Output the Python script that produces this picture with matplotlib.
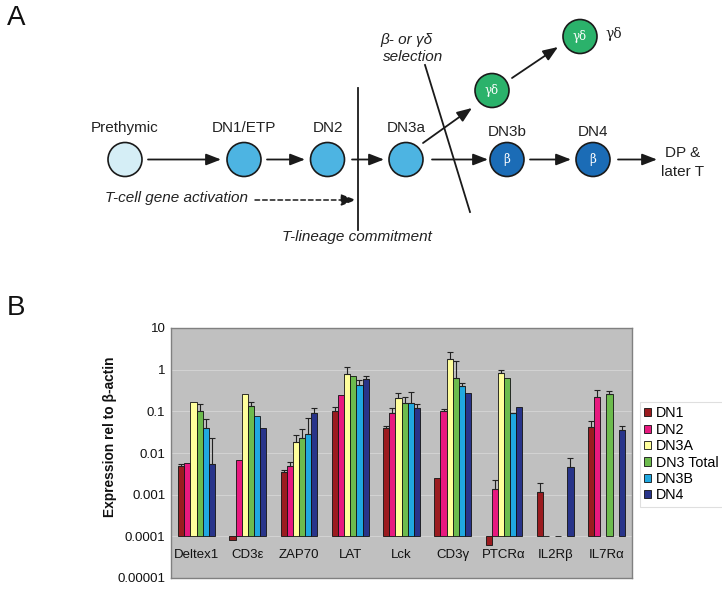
import numpy as np
import matplotlib
matplotlib.use("Agg")
import matplotlib.pyplot as plt
from matplotlib.patches import Circle, Patch
from matplotlib.ticker import FixedLocator, FixedFormatter
import matplotlib.transforms as mtransforms

plt.rcParams['font.family'] = ['Liberation Sans', 'DejaVu Sans']

nan = np.nan
genes = ['Deltex1', 'CD3ε', 'ZAP70', 'LAT', 'Lck', 'CD3γ', 'PTCRα', 'IL2Rβ', 'IL7Rα']
series = ['DN1', 'DN2', 'DN3A', 'DN3 Total', 'DN3B', 'DN4']
colors = ['#9b1b1f', '#e8197f', '#ffff9c', '#6cbb4d', '#20a8e0', '#28348a']

DN1 = [0.0049, 0.00008, 0.0035, 0.10, 0.039, 0.0025, 0.000063, 0.00115, 0.042]
DN2 = [0.0058, 0.0069, 0.005, 0.25, 0.091, 0.10, 0.00135, 0.0001, 0.22]
DN3A = [0.17, 0.254, 0.018, 0.77, 0.204, 1.82, 0.85, nan, nan]
DN3T = [0.10, 0.134, 0.023, 0.72, 0.155, 0.64, 0.625, 0.0001, 0.26]
DN3B = [0.040, 0.076, 0.029, 0.42, 0.16, 0.40, 0.089, nan, nan]
DN4 = [0.0055, 0.040, 0.089, 0.61, 0.118, 0.28, 0.124, 0.0047, 0.035]

DN1_err = [0.0055, nan, 0.0039, 0.13, 0.045, nan, nan, 0.0019, 0.059]
DN2_err = [nan, nan, 0.006, nan, 0.118, 0.111, 0.0022, nan, 0.32]
DN3A_err = [nan, nan, 0.0266, 1.19, 0.28, 2.6, 1.0, nan, nan]
DN3T_err = [0.15, 0.17, 0.038, nan, 0.215, 1.6, nan, nan, 0.31]
DN3B_err = [0.066, nan, 0.068, 0.56, 0.29, 0.48, 0.093, nan, nan]
DN4_err = [0.023, nan, 0.118, 0.70, 0.147, nan, nan, 0.0077, 0.045]

values = [DN1, DN2, DN3A, DN3T, DN3B, DN4]
err_tops = [DN1_err, DN2_err, DN3A_err, DN3T_err, DN3B_err, DN4_err]

ytick_vals = [10, 1, 0.1, 0.01, 0.001, 0.0001, 0.00001]
ytick_labels = ['10', '1', '0.1', '0.01', '0.001', '0.0001', '0.00001']
base = 0.0001

W, H = 722, 590
fig = plt.figure(figsize=(W / 100, H / 100), dpi=100)

# ---------------- Panel A (diagram) ----------------
axA = fig.add_axes([0, 0, 1, 1])
axA.set_xlim(0, W)
axA.set_ylim(H, 0)
axA.axis('off')

light = '#d5eef6'
mid = '#4db4e2'
dark = '#1b6cb6'
green = '#2bb26b'
edge = '#1a1a1a'

nodes = [
    ('Prethymic', 125, 159.5, light, None, 128),
    ('DN1/ETP', 244, 159.5, mid, None, 128),
    ('DN2', 327.5, 159.5, mid, None, 128),
    ('DN3a', 406, 159.5, mid, None, 128),
    ('DN3b', 507, 159.5, dark, 'β', 132),
    ('DN4', 593, 159.5, dark, 'β', 132),
    (None, 492, 90.5, green, 'γδ', None),
    (None, 580, 36.5, green, 'γδ', None),
]
for lab, cx, cy, fc, inner, ly in nodes:
    axA.add_patch(Circle((cx, cy), 17, fc=fc, ec=edge, lw=1.2, zorder=3))
    if lab:
        axA.text(cx, ly, lab, ha='center', va='center', fontsize=11, color='#222222')
    if inner:
        axA.text(cx, cy, inner, ha='center', va='center', fontsize=8.5,
                 color='white', family='DejaVu Serif', zorder=4)

arrows = [((148, 159.5), (221, 159.5)), ((267, 159.5), (305, 159.5)),
          ((352, 159.5), (384, 159.5)), ((423, 143), (472, 108)),
          ((432, 159.5), (488, 159.5)), ((512, 78), (558, 47)),
          ((530, 159.5), (571, 159.5)), ((618, 159.5), (657, 159.5))]
for (x0, y0), (x1, y1) in arrows:
    axA.annotate('', xy=(x1, y1), xytext=(x0, y0),
                 arrowprops=dict(arrowstyle='-|>,head_length=0.9,head_width=0.35',
                                 mutation_scale=10, color='#1a1a1a', lw=1.3,
                                 shrinkA=0, shrinkB=0))
axA.annotate('', xy=(356, 200), xytext=(255, 200),
             arrowprops=dict(arrowstyle='-|>,head_length=0.9,head_width=0.35',
                             mutation_scale=10, color='#1a1a1a', lw=1.1,
                             linestyle=(0, (3, 2)), shrinkA=0, shrinkB=0))

axA.plot([358, 358], [88, 230], color='#1a1a1a', lw=1.3)
axA.plot([425, 470], [65, 212], color='#1a1a1a', lw=1.3)

axA.text(105, 198, 'T-cell gene activation', ha='left', va='center',
         fontsize=11, style='italic', color='#222222')
axA.text(357, 237, 'T-lineage commitment', ha='center', va='center',
         fontsize=11, style='italic', color='#222222')
axA.text(380, 40, 'β- or γδ', ha='left', va='center', fontsize=11,
         style='italic', color='#222222')
axA.text(383, 57, 'selection', ha='left', va='center', fontsize=11,
         style='italic', color='#222222')
axA.text(605, 34, 'γδ', ha='left', va='center', fontsize=10,
         family='DejaVu Serif', color='#222222')
axA.text(683, 153, 'DP &', ha='center', va='center', fontsize=11, color='#222222')
axA.text(683, 172, 'later T', ha='center', va='center', fontsize=11, color='#222222')

axA.text(16, 18, 'A', ha='center', va='center', fontsize=20, color='#111111')
axA.text(16, 308, 'B', ha='center', va='center', fontsize=20, color='#111111')

# ---------------- Panel B (bar chart) ----------------
left, right, top, bottom = 171, 632, 328, 578
ax = fig.add_axes([left / W, 1 - bottom / H, (right - left) / W, (bottom - top) / H])
ax.set_facecolor('#c0c0c0')
ax.set_yscale('log')
ax.set_ylim(1e-5, 10)
ax.set_xlim(-0.5, len(genes) - 0.5)

for yv in ytick_vals[1:-1]:
    ax.axhline(yv, color='#d2d2d2', lw=0.8, zorder=0)

n = len(series)
bw = 0.1195
x = np.arange(len(genes))
for i, (vals, errs, col, lab) in enumerate(zip(values, err_tops, colors, series)):
    v = np.array(vals, dtype=float)
    e = np.array(errs, dtype=float)
    xs = x + (i - (n - 1) / 2) * bw
    ok = ~np.isnan(v)
    ax.bar(xs[ok], v[ok] - base, bottom=base, width=bw, color=col,
           edgecolor='#111111', lw=0.6, zorder=2, label=lab)
    okE = ~np.isnan(e) & ok
    ax.errorbar(xs[okE], v[okE], yerr=[np.zeros(okE.sum()), e[okE] - v[okE]],
                fmt='none', ecolor='#222222', elinewidth=0.8, capsize=2.4,
                capthick=0.8, zorder=3)

ax.yaxis.set_major_locator(FixedLocator(ytick_vals))
ax.yaxis.set_major_formatter(FixedFormatter(ytick_labels))
ax.yaxis.set_minor_locator(FixedLocator([]))
ax.tick_params(axis='y', length=0, pad=4, labelsize=9.5, labelcolor='#111111')
ax.set_xticks([])
for s in ax.spines.values():
    s.set_color('#808080')
    s.set_linewidth(1)

trans = mtransforms.blended_transform_factory(ax.transData, ax.transAxes)
for xi, g in zip(x, genes):
    ax.text(xi, 0.092, g, transform=trans, ha='center', va='center',
            fontsize=9.5, color='#111111')

fig.text(110 / W, 1 - 437 / H, 'Expression rel to β-actin', rotation=90,
         ha='center', va='center', fontsize=9.9, fontweight='bold', color='#111111')

handles = [Patch(facecolor=c, edgecolor='#111111', lw=0.6, label=s)
           for c, s in zip(colors, series)]
leg = fig.legend(handles=handles, loc='upper left',
                 bbox_to_anchor=(640 / W, 1 - 402 / H), fontsize=10.3,
                 frameon=True, fancybox=False, borderpad=0.3, labelspacing=0.17,
                 handlelength=0.5, handleheight=0.5, handletextpad=0.3,
                 borderaxespad=0)
leg.get_frame().set_edgecolor('#d8d8d8')
leg.get_frame().set_linewidth(0.8)

fig.savefig('out.png', dpi=100)
